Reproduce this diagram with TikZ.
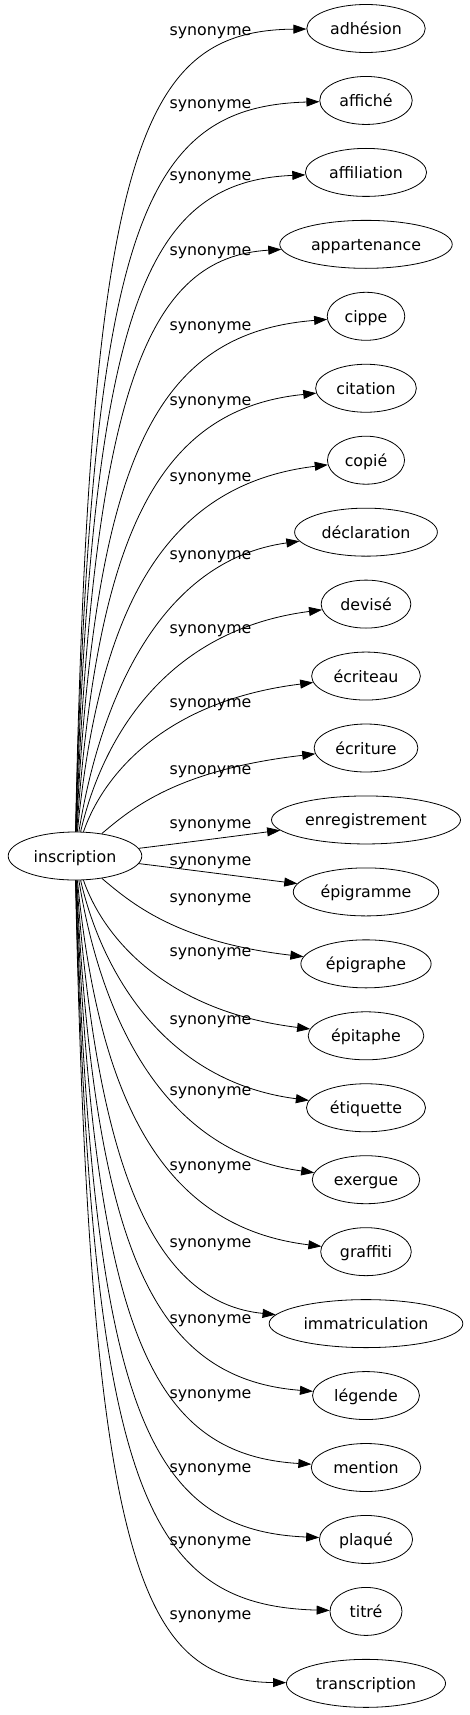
\documentclass[tikz,border=0pt]{standalone}
\usepackage{fontspec}
\setmainfont{DejaVu Sans}
\usetikzlibrary{arrows.meta,shapes.geometric}

\begin{document}
\begin{tikzpicture}[x=1pt,y=-1pt,font=\fontsize{15.8}{19}\selectfont,
  word/.style={draw,ellipse,line width=0.8pt,inner xsep=6pt,inner ysep=2pt,
    minimum width=72pt,minimum height=48pt,text height=12.5pt,text depth=0.5pt},
  syn/.style={-{Triangle[length=13pt,width=9pt]},line width=0.8pt},
  lbl/.style={inner sep=0pt}]
\useasboundingbox (0,0) rectangle (469,1715);
\node[word] (insc) at (75,856) {inscription};
% one entry per synonym: name/text/index/label y
\foreach \n/\txt/\i/\ly in {adhesion/adhésion/1/33, affiche/affiché/2/106,
  affiliation/affiliation/3/178, appartenance/appartenance/4/253,
  cippe/cippe/5/328, citation/citation/6/403, copie/copié/7/479,
  declaration/déclaration/8/557, devise/devisé/9/631, ecriteau/écriteau/10/705,
  ecriture/écriture/11/772, enregistrement/enregistrement/12/826,
  epigramme/épigramme/13/863, epigraphe/épigraphe/14/900,
  epitaphe/épitaphe/15/954, etiquette/étiquette/16/1022,
  exergue/exergue/17/1093, graffiti/graffiti/18/1168,
  immatriculation/immatriculation/19/1245, legende/légende/20/1321,
  mention/mention/21/1396, plaque/plaqué/22/1470, titre/titré/23/1543,
  transcription/transcription/24/1617} {
  \pgfmathsetmacro\yt{28.5+71.95*(\i-1)}
  \pgfmathtruncatemacro\kk{min(\i,25-\i)-1}
  \pgfmathsetmacro\s{ifthenelse(\i<13,1,-1)}
  \pgfmathsetmacro\pa{{90,91,92,94,95,97,98,100,102,105,130,175}[\kk]}
  \pgfmathsetmacro\ha{{120,126,133,140,147,154,161,168,135,94,62,24}[\kk]}
  \pgfmathsetmacro\xb{{140,143,146,149,152,154,157,160,165,170,175,275}[\kk]}
  \pgfmathsetmacro\hb{{2,6,9,13,17,21,25,28,26,24,22,11}[\kk]}
  \pgfmathsetmacro\dxa{\pa-75}
  \pgfmathsetmacro\dya{\yt+\s*\ha-856}
  \pgfmathsetmacro\dxb{\xb-366}
  \pgfmathsetmacro\dyb{\s*\hb}
  \node[word] (\n) at (366,\yt) {\txt};
  \node[lbl] (l\i) at (210.5,\ly) {synonyme};
  \draw[syn] (insc) .. controls +(\dxa,\dya) and +(\dxb,\dyb) .. (\n);
}
\end{tikzpicture}
\end{document}
